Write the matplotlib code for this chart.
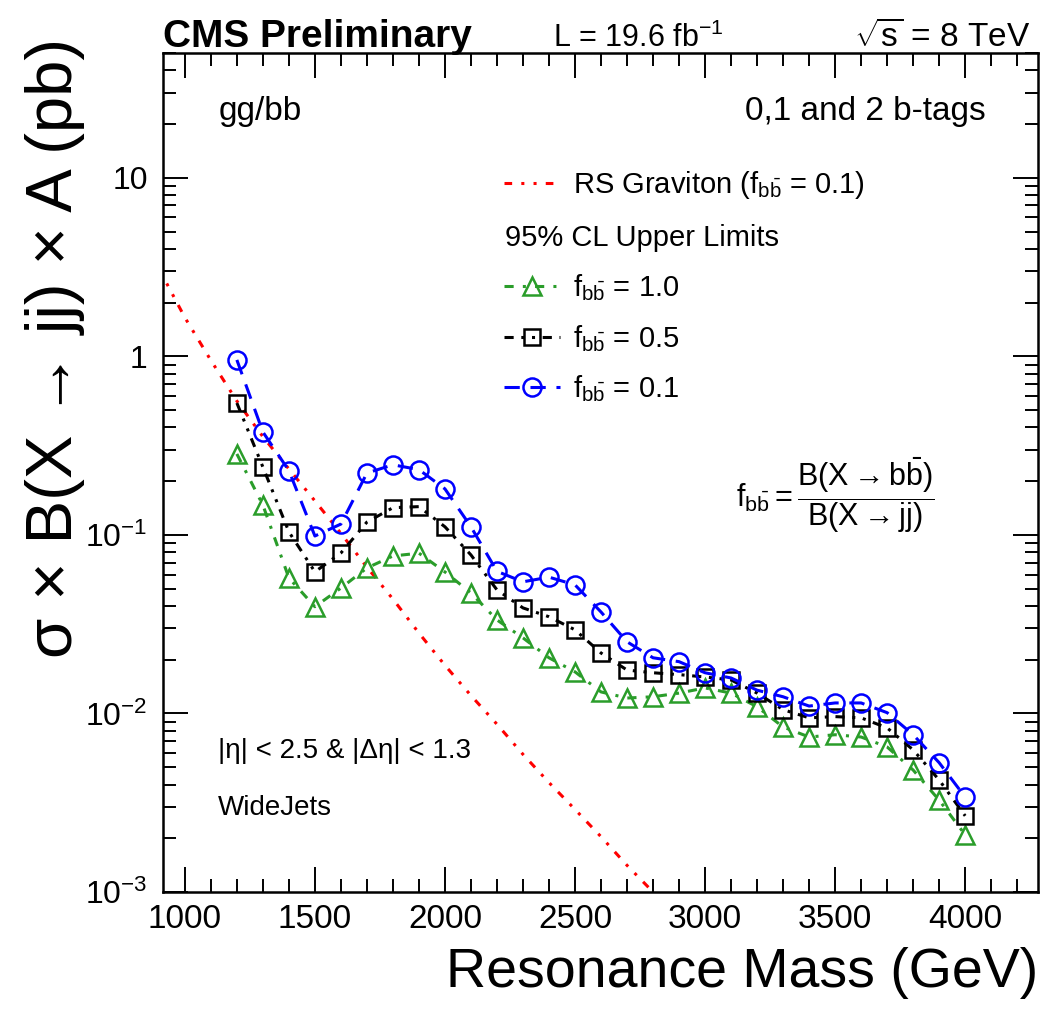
import matplotlib
matplotlib.use("Agg")
import matplotlib.pyplot as plt
from matplotlib.lines import Line2D
from matplotlib.ticker import MultipleLocator, LogLocator, NullFormatter

plt.rcParams['font.family'] = ['Liberation Sans', 'DejaVu Sans']
plt.rcParams['mathtext.fontset'] = 'custom'
plt.rcParams['mathtext.rm'] = 'Liberation Sans'
plt.rcParams['mathtext.it'] = 'Liberation Sans:italic'
plt.rcParams['mathtext.bf'] = 'Liberation Sans:bold'

# --- dati ---
mass = list(range(1200, 4001, 100))
lim_f10 = [0.284, 0.147, 0.0574, 0.0396, 0.0504, 0.0653, 0.0762, 0.079, 0.062, 0.0473,
           0.0334, 0.0265, 0.0205, 0.0171, 0.0132, 0.0122, 0.0124, 0.0130, 0.0139, 0.0130,
           0.0109, 0.0084, 0.00738, 0.0076, 0.00738, 0.00649, 0.00482, 0.00327, 0.00209]
lim_f05 = [0.548, 0.240, 0.104, 0.0621, 0.0792, 0.118, 0.142, 0.144, 0.111, 0.0772,
           0.0492, 0.039, 0.0348, 0.0294, 0.0218, 0.0175, 0.0169, 0.0165, 0.0160, 0.0154,
           0.0130, 0.0105, 0.00945, 0.0096, 0.00945, 0.0083, 0.00625, 0.00424, 0.00267]
lim_f01 = [0.955, 0.377, 0.229, 0.0986, 0.115, 0.222, 0.247, 0.232, 0.181, 0.111,
           0.0625, 0.0546, 0.058, 0.0525, 0.037, 0.0252, 0.0205, 0.0195, 0.0169, 0.0158,
           0.0135, 0.0124, 0.0110, 0.01145, 0.01145, 0.0101, 0.0076, 0.0053, 0.0034]

grav_mass = list(range(900, 2801, 100))
grav_xs = [3.10, 1.65, 0.950, 0.562, 0.355, 0.234, 0.155, 0.102, 0.066, 0.0437,
           0.0282, 0.0186, 0.0126, 0.0087, 0.0059, 0.0041, 0.0029, 0.00204, 0.00141, 0.0010]

ytick_vals = [1e-3, 1e-2, 1e-1, 1, 10]
ytick_labels = ['$10^{-3}$', '$10^{-2}$', '$10^{-1}$', '1', '10']

red = '#ff0000'
green = '#2a9d2a'
blue = '#0000ff'

ls_red = (0, (2.5, 3, 1, 3, 1, 3))
ls_green = (0, (3, 3, 1, 3))
ls_black = (0, (3, 2.5, 1, 2.5, 1, 2.5))
ls_blue = (0, (5, 3.5))

fig = plt.figure(figsize=(10.64, 10.11), dpi=100)
ax = fig.add_axes([163 / 1064, 1 - 892 / 1011, 875 / 1064, 839 / 1011])

# curva RS graviton
ax.plot(grav_mass, grav_xs, color=red, lw=2.2, linestyle=ls_red)

# limiti 95% CL
ms = 13
ax.plot(mass, lim_f10, color=green, lw=2.2, linestyle=ls_green,
        marker='^', markersize=ms, mfc='none', mec=green, mew=1.8)
ax.plot(mass, lim_f05, color='black', lw=2.2, linestyle=ls_black,
        marker='s', markersize=ms - 1, mfc='none', mec='black', mew=1.8)
ax.plot(mass, lim_f01, color=blue, lw=2.2, linestyle=ls_blue,
        marker='o', markersize=ms, mfc='none', mec=blue, mew=1.8)

ax.set_yscale('log')
ax.set_xlim(916, 4280)
ax.set_ylim(1e-3, 50)

ax.xaxis.set_major_locator(MultipleLocator(500))
ax.xaxis.set_minor_locator(MultipleLocator(100))
ax.set_yticks(ytick_vals, ytick_labels)
ax.yaxis.set_minor_locator(LogLocator(base=10, subs=range(2, 10)))
ax.yaxis.set_minor_formatter(NullFormatter())

ax.tick_params(which='both', direction='in', top=True, right=True, width=1.4)
ax.tick_params(which='major', length=18, labelsize=24, pad=9)
ax.tick_params(which='minor', length=9.5)
ax.tick_params(axis='y', which='major', pad=11, labelsize=23)
for sp in ax.spines.values():
    sp.set_linewidth(1.8)

ax.set_xlabel('Resonance Mass (GeV)', fontsize=40, loc='right', labelpad=8)
fig.text(55 / 1064, 1 - 38 / 1011, 'σ × B(X → jj) × A (pb)', rotation=90,
         fontsize=47, ha='center', va='top')

# intestazione
fig.text(163 / 1064, 1 - 47 / 1011, 'CMS Preliminary', fontsize=28, fontweight='bold',
         ha='left', va='baseline')
fig.text(553 / 1064, 1 - 47 / 1011, 'L = 19.6 fb$^{-1}$', fontsize=22,
         ha='left', va='baseline')
fig.text(1030 / 1064, 1 - 47 / 1011, r'$\sqrt{\mathrm{s}}$ = 8 TeV', fontsize=24,
         ha='right', va='baseline')

# testi interni
ax.text(0.063, 0.93, 'gg/bb', transform=ax.transAxes, fontsize=24, va='center')
ax.text(0.94, 0.93, '0,1 and 2 b-tags', transform=ax.transAxes, fontsize=24,
        va='center', ha='right')
ax.text(0.063, 0.168, '|η| < 2.5 & |Δη| < 1.3', transform=ax.transAxes, fontsize=20,
        va='center')
ax.text(0.063, 0.1, 'WideJets', transform=ax.transAxes, fontsize=20, va='center')
ax.text(0.655, 0.473,
        r'$\mathrm{f}_{\mathrm{b\bar{b}}} = \dfrac{\mathrm{B(X \rightarrow b\bar{b})}}{\mathrm{B(X \rightarrow jj)}}$',
        transform=ax.transAxes, fontsize=22, va='center')

# legenda
fbb = r'$\mathrm{f}_{\mathrm{b\bar{b}}}$'
handles = [
    Line2D([], [], color=red, lw=2.2, linestyle=ls_red),
    Line2D([], [], color='none'),
    Line2D([], [], color=green, lw=2.2, linestyle=ls_green, marker='^',
           markersize=ms, mfc='none', mec=green, mew=1.8),
    Line2D([], [], color='black', lw=2.2, linestyle=ls_black, marker='s',
           markersize=ms - 1, mfc='none', mec='black', mew=1.8),
    Line2D([], [], color=blue, lw=2.2, linestyle=ls_blue, marker='o',
           markersize=ms, mfc='none', mec=blue, mew=1.8),
]
labels = ['RS Graviton (' + fbb + ' = 0.1)', fbb, fbb + ' = 1.0', fbb + ' = 0.5', fbb + ' = 0.1']
leg = ax.legend(handles, labels, loc='upper left', bbox_to_anchor=(0.39, 0.862),
                frameon=False, fontsize=21, handlelength=1.9, handletextpad=0.45,
                labelspacing=0.69, borderpad=0, borderaxespad=0)
leg.get_texts()[1].set_visible(False)
ax.text(0.391, 0.779, '95% CL Upper Limits', transform=ax.transAxes, fontsize=21,
        va='center')

fig.savefig('out.png', dpi=100)
